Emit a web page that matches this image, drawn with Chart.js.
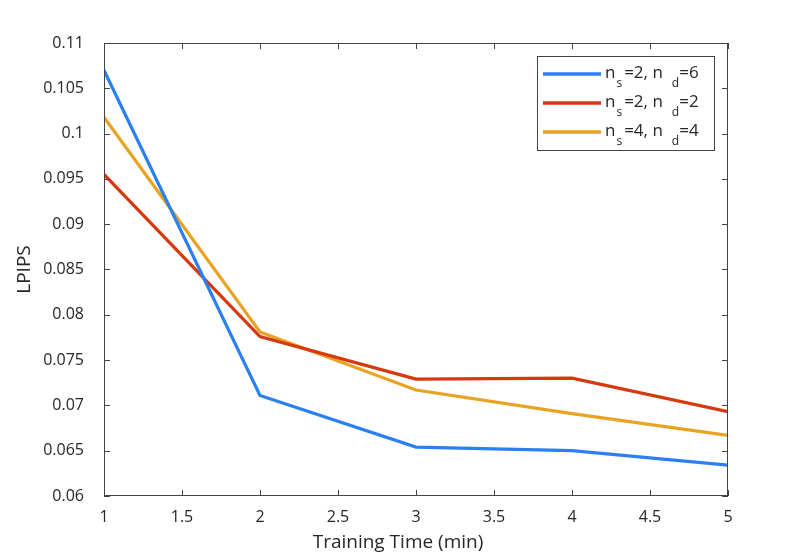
<!DOCTYPE html>
<html>
<head>
<meta charset="utf-8">
<script src="https://cdn.jsdelivr.net/npm/chart.js@4.4.1/dist/chart.umd.min.js"></script>
<style>
  html, body { margin: 0; padding: 0; background: #fff; }
  #wrap { width: 805px; height: 557px; }
</style>
</head>
<body>
<div id="wrap"><canvas id="lpipsChart" width="805" height="557"></canvas></div>
<script>
// data
var trainingTime = [1, 2, 3, 4, 5];
var lpipsS2D6 = [0.1070, 0.0711, 0.0654, 0.0650, 0.0634];
var lpipsS2D2 = [0.0955, 0.0776, 0.0729, 0.0730, 0.0693];
var lpipsS4D4 = [0.1018, 0.0781, 0.0717, 0.0691, 0.0667];

var xTicks = [1, 1.5, 2, 2.5, 3, 3.5, 4, 4.5, 5];
var yTicks = [0.06, 0.065, 0.07, 0.075, 0.08, 0.085, 0.09, 0.095, 0.1, 0.105, 0.11];

// legend text: [ns, nd]
var legendNs = ['2', '2', '4'];
var legendNd = ['6', '2', '4'];

var colors = ['#2a80f0', '#d6390e', '#e8a322'];
var FONT = '"Open Sans", "Noto Sans", sans-serif';

function toPoints(ys) {
    return trainingTime.map(function(t, i) { return { x: t, y: ys[i] }; });
}

// ticks pointing inward on all four sides + the box + x label
var boxPlugin = {
    id: 'boxTicks',
    afterDraw: function(chart) {
        var ctx = chart.ctx;
        var a = chart.chartArea;
        var xs = chart.scales.x, ys = chart.scales.y;
        var len = 6;
        ctx.save();
        ctx.strokeStyle = '#444';
        ctx.lineWidth = 1;
        ctx.strokeRect(a.left + 0.5, a.top + 0.5, a.right - a.left - 1, a.bottom - a.top - 1);
        ctx.beginPath();
        xTicks.forEach(function(v) {
            var px = Math.round(xs.getPixelForValue(v)) + 0.5;
            ctx.moveTo(px, a.bottom); ctx.lineTo(px, a.bottom - len);
            ctx.moveTo(px, a.top); ctx.lineTo(px, a.top + len);
        });
        yTicks.forEach(function(v) {
            var py = Math.round(ys.getPixelForValue(v)) + 0.5;
            ctx.moveTo(a.left, py); ctx.lineTo(a.left + len, py);
            ctx.moveTo(a.right, py); ctx.lineTo(a.right - len, py);
        });
        ctx.stroke();

        // x axis label (sits a bit left of the axis centre in the original)
        ctx.fillStyle = '#262626';
        ctx.font = '19px ' + FONT;
        ctx.textAlign = 'center';
        ctx.textBaseline = 'middle';
        ctx.fillText('Training Time (min)', 398, 543);
        ctx.restore();
    }
};

// legend with subscripts, drawn by hand
var legendPlugin = {
    id: 'subLegend',
    afterDraw: function(chart) {
        var ctx = chart.ctx;
        var bx = 537, by = 56, bw = 177, bh = 94;
        ctx.save();
        ctx.fillStyle = '#fff';
        ctx.fillRect(bx, by, bw, bh);
        ctx.strokeStyle = '#444';
        ctx.lineWidth = 1;
        ctx.strokeRect(bx + 0.5, by + 0.5, bw, bh);
        chart.data.datasets.forEach(function(ds, i) {
            var rowY = by + 18 + i * 29;
            ctx.strokeStyle = ds.borderColor;
            ctx.lineWidth = 3.5;
            ctx.beginPath();
            ctx.moveTo(bx + 6, rowY);
            ctx.lineTo(bx + 64, rowY);
            ctx.stroke();

            ctx.fillStyle = '#262626';
            ctx.textBaseline = 'alphabetic';
            var x = bx + 68;
            var base = rowY + 4;
            ctx.font = '17px ' + FONT;
            ctx.fillText('n', x, base); x += ctx.measureText('n').width + 1;
            ctx.font = '12px ' + FONT;
            ctx.fillText('s', x, base + 9); x += ctx.measureText('s').width + 2;
            ctx.font = '17px ' + FONT;
            var mid = '=' + legendNs[i] + ', n';
            ctx.fillText(mid, x, base); x += ctx.measureText(mid).width + 9;
            ctx.font = '12px ' + FONT;
            ctx.fillText('d', x, base + 9); x += ctx.measureText('d').width;
            ctx.font = '17px ' + FONT;
            ctx.fillText('=' + legendNd[i], x, base);
        });
        ctx.restore();
    }
};

var ctx = document.getElementById('lpipsChart').getContext('2d');

var data = {
    datasets: [{
        label: 'ns=2, nd=6',
        data: toPoints(lpipsS2D6),
        borderColor: colors[0],
        borderWidth: 3.2,
        pointRadius: 0,
        fill: false
    }, {
        label: 'ns=2, nd=2',
        data: toPoints(lpipsS2D2),
        borderColor: colors[1],
        borderWidth: 3.2,
        pointRadius: 0,
        fill: false
    }, {
        label: 'ns=4, nd=4',
        data: toPoints(lpipsS4D4),
        borderColor: colors[2],
        borderWidth: 3.2,
        pointRadius: 0,
        fill: false
    }]
};

var options = {
    responsive: false,
    animation: false,
    layout: { padding: { left: 0, right: 77, top: 43, bottom: 0 } },
    plugins: {
        legend: { display: false },
        tooltip: { enabled: false }
    },
    scales: {
        x: {
            type: 'linear',
            min: 1,
            max: 5,
            grid: { display: false, drawTicks: false },
            border: { display: false },
            afterBuildTicks: function(scale) {
                scale.ticks = xTicks.map(function(v) { return { value: v }; });
            },
            afterFit: function(scale) { scale.height = 61; },
            ticks: {
                padding: 12,
                color: '#262626',
                font: { family: FONT, size: 16 },
                maxRotation: 0,
                callback: function(v) { return String(v); }
            },
            title: { display: false }
        },
        y: {
            type: 'linear',
            min: 0.06,
            max: 0.11,
            grid: { display: false, drawTicks: false },
            border: { display: false },
            afterBuildTicks: function(scale) {
                scale.ticks = yTicks.map(function(v) { return { value: v }; });
            },
            afterFit: function(scale) { scale.width = 104; },
            ticks: {
                padding: 20,
                color: '#262626',
                font: { family: FONT, size: 16 },
                callback: function(v) { return String(parseFloat(v.toFixed(3))); }
            },
            title: {
                display: true,
                text: 'LPIPS',
                color: '#262626',
                font: { family: FONT, size: 19 },
                padding: { top: 13, bottom: 0 }
            }
        }
    }
};

var lpipsChart = new Chart(ctx, {
    type: 'line',
    data: data,
    options: options,
    plugins: [boxPlugin, legendPlugin]
});
</script>
</body>
</html>
